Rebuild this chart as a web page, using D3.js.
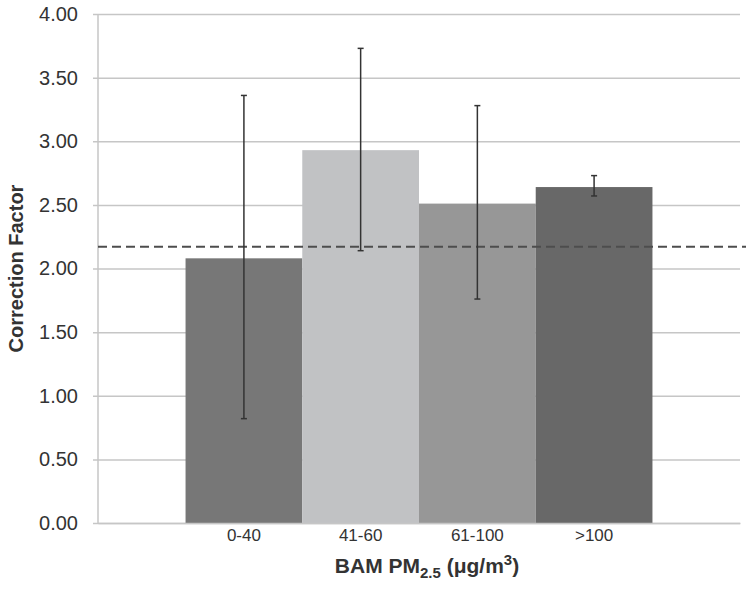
<!DOCTYPE html>
<html>
<head>
<meta charset="utf-8">
<script src="https://cdn.jsdelivr.net/npm/d3@7"></script>
<style>
  body { margin: 0; background: #fff; }
  text { font-family: "Liberation Sans", Arial, sans-serif; fill: #333; }
</style>
</head>
<body>
<div id="chart"></div>
<script>
const categories = ['0-40', '41-60', '61-100', '>100'];
const values = [2.08, 2.93, 2.51, 2.64];
const errLow = [0.82, 2.14, 1.76, 2.57];
const errHigh = [3.36, 3.73, 3.28, 2.73];
const barColors = ['#777777', '#c1c2c4', '#979797', '#686868'];
const refValue = 2.17;
const yTicks = [0, 0.5, 1, 1.5, 2, 2.5, 3, 3.5, 4];

const svgWidth = 750;
const svgHeight = 589;
const margin = { top: 14, right: 10, bottom: 66, left: 98 };
const width = svgWidth - margin.left - margin.right;
const height = svgHeight - margin.top - margin.bottom;

const svg = d3.select('#chart').append('svg')
  .attr('width', svgWidth)
  .attr('height', svgHeight);

const g = svg.append('g')
  .attr('transform', `translate(${margin.left},${margin.top})`);

const x = d3.scaleBand()
  .domain(categories)
  .range([0, width])
  .paddingInner(0)
  .paddingOuter(0.75);

const y = d3.scaleLinear()
  .domain([0, 4])
  .range([height, 0]);

// grid + y axis
const yAxis = g.append('g')
  .call(d3.axisLeft(y)
    .tickValues(yTicks)
    .tickFormat(d3.format('.2f'))
    .tickSize(-width)
    .tickPadding(20)
  );
yAxis.select('.domain').remove();
yAxis.selectAll('.tick line')
  .attr('stroke', '#c6c6c6')
  .attr('stroke-width', 1.5)
  .attr('x1', -5);
yAxis.selectAll('.tick text')
  .style('font-size', '20px')
  .attr('fill', '#333');

g.append('line')
  .attr('x1', 0).attr('x2', 0)
  .attr('y1', 0).attr('y2', height)
  .attr('stroke', '#c6c6c6')
  .attr('stroke-width', 1.5);

// bars
g.selectAll('.bar')
  .data(values)
  .join('rect')
  .attr('class', 'bar')
  .attr('x', (d, i) => x(categories[i]))
  .attr('y', d => y(d))
  .attr('width', x.bandwidth())
  .attr('height', d => height - y(d))
  .attr('fill', (d, i) => barColors[i]);

// reference dashed line
g.append('line')
  .attr('x1', 0)
  .attr('x2', width + 6)
  .attr('y1', y(refValue))
  .attr('y2', y(refValue))
  .attr('stroke', '#4d4d4d')
  .attr('stroke-width', 2)
  .attr('stroke-dasharray', '9,5');

// error bars
const err = g.selectAll('.err')
  .data(values)
  .join('g')
  .attr('class', 'err')
  .attr('transform', (d, i) => `translate(${x(categories[i]) + x.bandwidth() / 2},0)`);

err.append('line')
  .attr('y1', (d, i) => y(errLow[i]))
  .attr('y2', (d, i) => y(errHigh[i]))
  .attr('stroke', '#333')
  .attr('stroke-width', 1.5);
err.append('line')
  .attr('x1', -3).attr('x2', 3)
  .attr('y1', (d, i) => y(errHigh[i]))
  .attr('y2', (d, i) => y(errHigh[i]))
  .attr('stroke', '#333')
  .attr('stroke-width', 1.5);
err.append('line')
  .attr('x1', -3).attr('x2', 3)
  .attr('y1', (d, i) => y(errLow[i]))
  .attr('y2', (d, i) => y(errLow[i]))
  .attr('stroke', '#333')
  .attr('stroke-width', 1.5);

// x axis
const xAxis = g.append('g')
  .attr('transform', `translate(0,${height})`)
  .call(d3.axisBottom(x).tickSize(0).tickPadding(6));
xAxis.select('.domain')
  .attr('stroke', '#c6c6c6')
  .attr('stroke-width', 1.5);
xAxis.selectAll('.tick text')
  .style('font-size', '17px')
  .attr('fill', '#333');

// axis titles
const xTitle = svg.append('text')
  .attr('x', 427)
  .attr('y', 573)
  .attr('text-anchor', 'middle')
  .style('font-size', '21px')
  .style('font-weight', 'bold');
xTitle.append('tspan').text('BAM PM');
xTitle.append('tspan').attr('dy', 5).style('font-size', '15px').text('2.5');
xTitle.append('tspan').attr('dy', -5).text(' (μg/m');
xTitle.append('tspan').attr('dy', -8).style('font-size', '15px').text('3');
xTitle.append('tspan').attr('dy', 8).text(')');

svg.append('text')
  .attr('transform', `translate(23,${margin.top + height / 2}) rotate(-90)`)
  .attr('text-anchor', 'middle')
  .style('font-size', '20px')
  .style('font-weight', 'bold')
  .text('Correction Factor');
</script>
</body>
</html>
